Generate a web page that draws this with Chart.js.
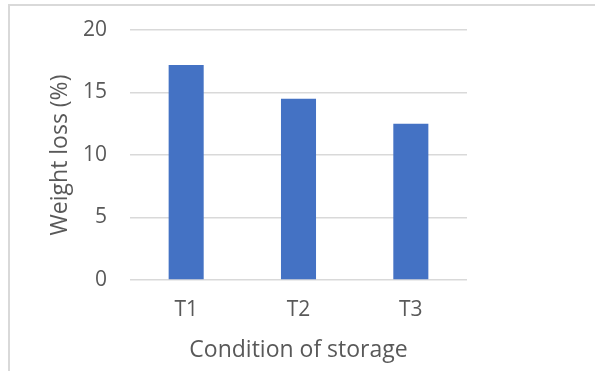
<!DOCTYPE html>
<html>
<head>
<meta charset="utf-8">
<script src="https://cdn.jsdelivr.net/npm/chart.js@4/dist/chart.umd.min.js"></script>
<style>
  html, body { margin: 0; padding: 0; background: #ffffff; overflow: hidden; }
  #wrap { position: relative; width: 595px; height: 371px; }
  #frame {
    position: absolute; left: 8px; top: 4px; width: 600px; height: 380px;
    border-top: 2px solid #d9d9d9; border-left: 2px solid #d9d9d9;
    box-sizing: border-box; pointer-events: none;
  }
  canvas { position: absolute; left: 0; top: 0; }
</style>
</head>
<body>
<div id="wrap">
  <canvas id="chart" width="595" height="371"></canvas>
  <div id="frame"></div>
</div>
<script>
// Storage conditions and the measured weight loss for each
const categories = ['T1', 'T2', 'T3'];
const weightLoss = [17.2, 14.5, 12.5];
const yTicks = [0, 5, 10, 15, 20];

const xTitle = 'Condition of storage';
const yTitle = 'Weight loss (%)';

const textColor = '#595959';
const gridColor = '#d9d9d9';
const barColor = '#4472C4';
const fontFamily = '"Open Sans", "Noto Sans", sans-serif';

new Chart(document.getElementById('chart'), {
  type: 'bar',
  data: {
    labels: categories,
    datasets: [{
      data: weightLoss,
      backgroundColor: barColor,
      borderWidth: 0,
      barPercentage: 0.312,
      categoryPercentage: 1
    }]
  },
  options: {
    responsive: false,
    animation: false,
    devicePixelRatio: 1,
    layout: { padding: { left: 0, right: 128, top: 30, bottom: 0 } },
    plugins: { legend: { display: false }, tooltip: { enabled: false } },
    scales: {
      x: {
        grid: { display: false, drawTicks: false },
        border: { display: false },
        ticks: { color: textColor, font: { family: fontFamily, size: 21 }, padding: 17 },
        title: {
          display: true, text: xTitle, color: textColor,
          font: { family: fontFamily, size: 23 },
          padding: { top: 0, bottom: 7 }
        },
        afterFit: (s) => { s.height = 91; }
      },
      y: {
        min: 0, max: 20,
        afterBuildTicks: (s) => { s.ticks = yTicks.map(v => ({ value: v })); },
        grid: { color: gridColor, lineWidth: 1.5, drawTicks: false },
        border: { display: false },
        ticks: { color: textColor, font: { family: fontFamily, size: 21 }, padding: 23 },
        title: {
          display: true, text: yTitle, color: textColor,
          font: { family: fontFamily, size: 23 },
          padding: { top: 47, bottom: 0 }
        },
        // fixed axis width; the tick-label overhang must not push the plot area down
        afterFit: (s) => { s.width = 130; s.paddingTop = 0; s.paddingBottom = 0; }
      }
    }
  }
});
</script>
</body>
</html>
